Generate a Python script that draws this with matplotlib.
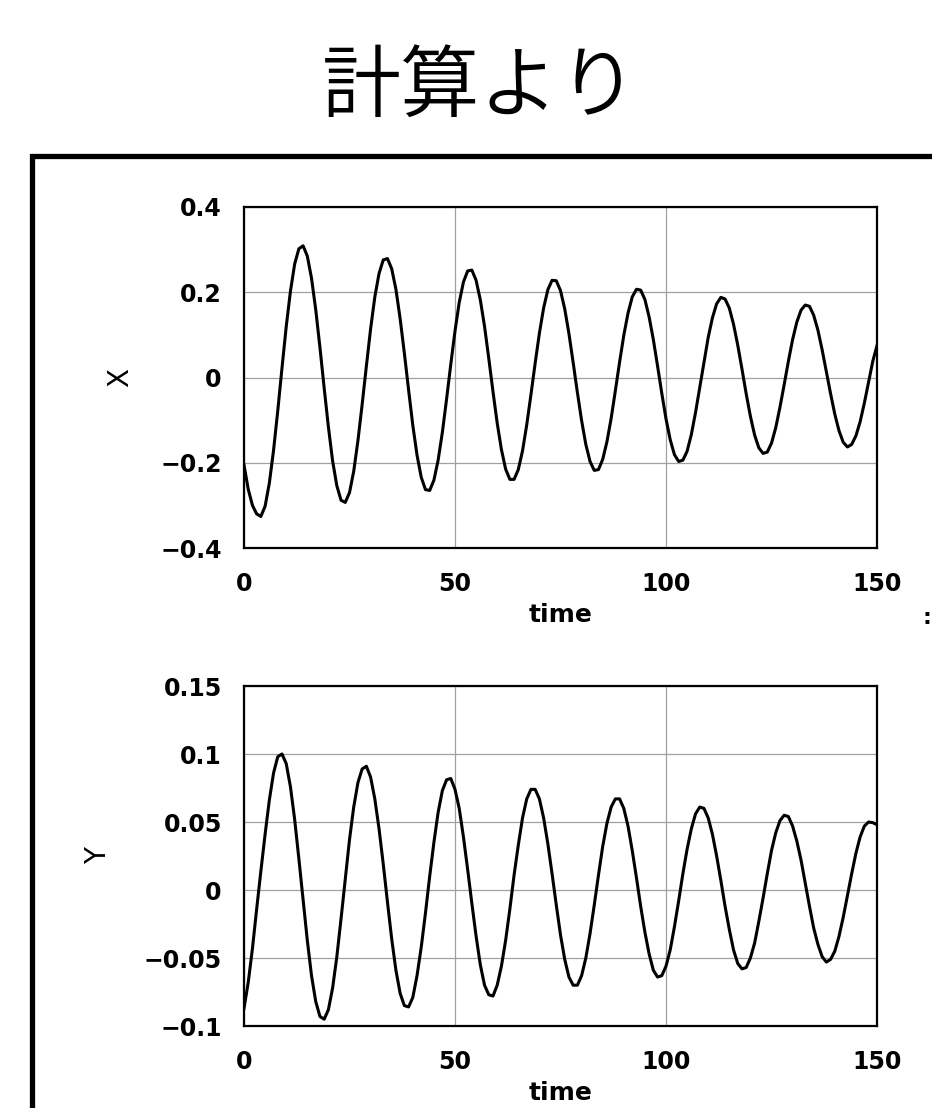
import numpy as np
import matplotlib
matplotlib.use('Agg')
import matplotlib.pyplot as plt
from matplotlib.patches import Rectangle

# time samples (one value per time unit)
time = np.arange(0, 151)

x_vals = [
    -0.205, -0.262, -0.300, -0.320, -0.326, -0.302, -0.248, -0.171, -0.078, 0.022,
    0.119, 0.202, 0.266, 0.302, 0.309, 0.285, 0.233, 0.159, 0.070, -0.025,
    -0.116, -0.196, -0.254, -0.288, -0.293, -0.270, -0.220, -0.148, -0.063, 0.027,
    0.114, 0.189, 0.244, 0.276, 0.279, 0.255, 0.207, 0.138, 0.057, -0.029,
    -0.112, -0.182, -0.234, -0.263, -0.265, -0.241, -0.194, -0.129, -0.051, 0.031,
    0.109, 0.176, 0.224, 0.250, 0.252, 0.228, 0.182, 0.120, 0.045, -0.033,
    -0.107, -0.169, -0.215, -0.239, -0.239, -0.216, -0.172, -0.111, -0.040, 0.034,
    0.104, 0.163, 0.206, 0.228, 0.227, 0.204, 0.161, 0.103, 0.035, -0.035,
    -0.101, -0.157, -0.197, -0.218, -0.216, -0.192, -0.151, -0.096, -0.031, 0.036,
    0.099, 0.151, 0.189, 0.207, 0.205, 0.183, 0.142, 0.089, 0.027, -0.037,
    -0.097, -0.146, -0.181, -0.197, -0.194, -0.173, -0.134, -0.082, -0.023, 0.037,
    0.094, 0.140, 0.173, 0.188, 0.184, 0.163, 0.125, 0.076, 0.020, -0.038,
    -0.091, -0.135, -0.165, -0.178, -0.175, -0.154, -0.118, -0.070, -0.017, 0.038,
    0.089, 0.130, 0.158, 0.170, 0.167, 0.146, 0.111, 0.065, 0.014, -0.038,
    -0.086, -0.125, -0.152, -0.163, -0.157, -0.137, -0.104, -0.060, -0.011, 0.038,
    0.075,
]

y_vals = [
    -0.087, -0.068, -0.043, -0.014, 0.014, 0.041, 0.066, 0.086, 0.098, 0.100,
    0.093, 0.076, 0.052, 0.023, -0.007, -0.037, -0.063, -0.082, -0.093, -0.095,
    -0.088, -0.072, -0.049, -0.021, 0.008, 0.037, 0.061, 0.079, 0.089, 0.091,
    0.083, 0.067, 0.045, 0.019, -0.009, -0.036, -0.059, -0.076, -0.085, -0.086,
    -0.079, -0.063, -0.042, -0.017, 0.010, 0.035, 0.057, 0.073, 0.081, 0.082,
    0.074, 0.060, 0.039, 0.015, -0.010, -0.034, -0.055, -0.070, -0.077, -0.078,
    -0.070, -0.056, -0.037, -0.014, 0.011, 0.033, 0.053, 0.067, 0.074, 0.074,
    0.067, 0.053, 0.034, 0.012, -0.011, -0.033, -0.051, -0.064, -0.070, -0.070,
    -0.063, -0.050, -0.032, -0.011, 0.011, 0.032, 0.049, 0.061, 0.067, 0.067,
    0.060, 0.047, 0.029, 0.009, -0.012, -0.031, -0.047, -0.059, -0.064, -0.063,
    -0.056, -0.044, -0.027, -0.008, 0.012, 0.030, 0.045, 0.056, 0.061, 0.060,
    0.053, 0.041, 0.025, 0.007, -0.012, -0.029, -0.044, -0.054, -0.058, -0.057,
    -0.050, -0.039, -0.023, -0.006, 0.012, 0.029, 0.042, 0.051, 0.055, 0.054,
    0.047, 0.036, 0.022, 0.005, -0.012, -0.028, -0.040, -0.049, -0.053, -0.051,
    -0.045, -0.034, -0.020, -0.004, 0.012, 0.027, 0.039, 0.047, 0.050, 0.0495,
    0.048,
]

x_ticks = [0, 50, 100, 150]
x_ticklabels = ['0', '50', '100', '150']
top_yticks = [-0.4, -0.2, 0, 0.2, 0.4]
top_yticklabels = ['\u22120.4', '\u22120.2', '0', '0.2', '0.4']
bot_yticks = [-0.1, -0.05, 0, 0.05, 0.1, 0.15]
bot_yticklabels = ['\u22120.1', '\u22120.05', '0', '0.05', '0.1', '0.15']

title = '計算より'

W, H = 932, 1108
fig = plt.figure(figsize=(W / 100, H / 100), dpi=100)
fig.patch.set_facecolor('white')

# title
fig.text(480 / W, 1 - 88 / H, title, ha='center', va='center', fontsize=57,
         weight=350, family=['Noto Sans CJK JP', 'DejaVu Sans'])

# thick outer frame (runs off the right and bottom edges)
fig.patches.append(Rectangle((32 / W, -0.1), 2.0, 0.1 + 1 - 156 / H,
                             transform=fig.transFigure, fill=False,
                             edgecolor='black', lw=3.8, clip_on=False))

tick_font = dict(family='DejaVu Sans', weight='bold', size=17)


def style_axes(ax, yticks, yticklabels, ylim, ylabel, ylabel_x):
    ax.set_xlim(0, 150)
    ax.set_ylim(*ylim)
    ax.set_xticks(x_ticks)
    ax.set_xticklabels(x_ticklabels, **tick_font)
    ax.set_yticks(yticks)
    ax.set_yticklabels(yticklabels, **tick_font)
    ax.tick_params(length=0)
    ax.tick_params(axis='y', pad=16)
    ax.tick_params(axis='x', pad=17)
    ax.grid(True, color='#a0a0a0', lw=0.9)
    ax.set_axisbelow(True)
    for s in ax.spines.values():
        s.set_linewidth(1.6)
        s.set_color('black')
    ax.set_ylabel(ylabel, fontsize=20, va='center')
    ax.yaxis.set_label_coords(ylabel_x, 0.5)
    ax.set_xlabel('time', family='DejaVu Sans', weight='bold', fontsize=18, va='center')
    ax.xaxis.set_label_coords(0.5, -0.196)


# top panel: X
ax1 = fig.add_axes([244 / W, 1 - 548 / H, 633 / W, 341 / H])
ax1.plot(time, x_vals, color='black', lw=2.2, solid_joinstyle='round')
style_axes(ax1, top_yticks, top_yticklabels, (-0.4, 0.4), 'X', (120 - 244) / 633)

# bottom panel: Y
ax2 = fig.add_axes([244 / W, 1 - 1026 / H, 633 / W, 340 / H])
ax2.plot(time, y_vals, color='black', lw=2.2, solid_joinstyle='round')
style_axes(ax2, bot_yticks, bot_yticklabels, (-0.1, 0.15), 'Y', (98 - 244) / 633)

# clipped leftover mark at the right edge
fig.text(927 / W, 1 - 618 / H, ':', ha='center', va='center', fontsize=16, weight='bold')

fig.savefig('out.png', dpi=100, facecolor='white')
